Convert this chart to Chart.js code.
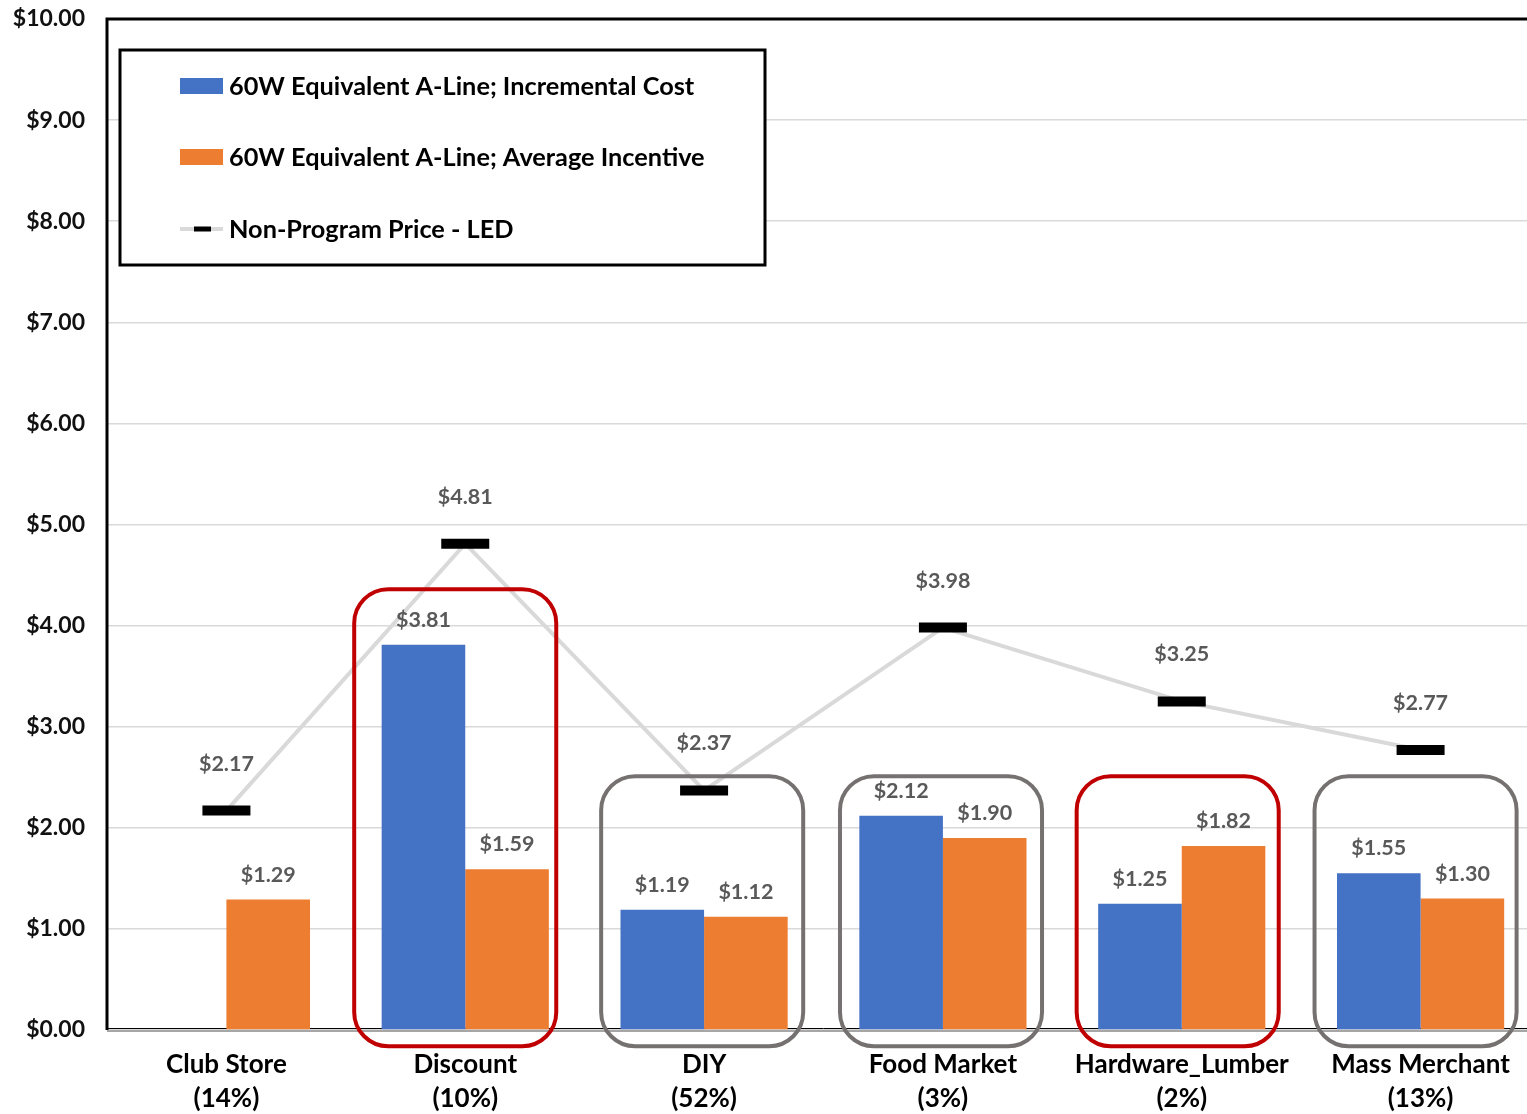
<!DOCTYPE html>
<html>
<head>
<meta charset="utf-8">
<script src="https://cdn.jsdelivr.net/npm/chart.js@4.4.1/dist/chart.umd.min.js"></script>
<style>
    html, body { margin: 0; padding: 0; background: #fff; overflow: hidden; }
    canvas { display: block; }
</style>
</head>
<body>
<canvas id="chart" width="1545" height="1114"></canvas>
<script>
const categories = [
    ['Club Store', '(14%)'],
    ['Discount', '(10%)'],
    ['DIY', '(52%)'],
    ['Food Market', '(3%)'],
    ['Hardware_Lumber', '(2%)'],
    ['Mass Merchant', '(13%)']
];
const incrementalCost = [null, 3.81, 1.19, 2.12, 1.25, 1.55];
const averageIncentive = [1.29, 1.59, 1.12, 1.90, 1.82, 1.30];
const nonProgramPrice = [2.17, 4.81, 2.37, 3.98, 3.25, 2.77];
const yTicks = [0, 1, 2, 3, 4, 5, 6, 7, 8, 9, 10];

// callout boxes around some categories: index, top value, shift (categories), colour
const highlightIndex = [1, 2, 3, 4, 5];
const highlightTop = [4.36, 2.51, 2.51, 2.51, 2.51];
const highlightShift = [-0.042, -0.008, -0.008, -0.017, -0.021];
const highlightColor = ['#c00000', '#767171', '#767171', '#c00000', '#767171'];

const FONT = 'Lato, "Open Sans", sans-serif';
const money = v => '$' + v.toFixed(2);

function roundRect(ctx, x, y, w, h, r) {
    ctx.beginPath();
    ctx.moveTo(x + r, y);
    ctx.lineTo(x + w - r, y);
    ctx.arcTo(x + w, y, x + w, y + r, r);
    ctx.lineTo(x + w, y + h - r);
    ctx.arcTo(x + w, y + h, x + w - r, y + h, r);
    ctx.lineTo(x + r, y + h);
    ctx.arcTo(x, y + h, x, y + h - r, r);
    ctx.lineTo(x, y + r);
    ctx.arcTo(x, y, x + r, y, r);
    ctx.closePath();
}

function noPadding(scale) {
    scale.paddingTop = 0;
    scale.paddingBottom = 0;
    scale.paddingLeft = 0;
    scale.paddingRight = 0;
}

const framePlugin = {
    id: 'frame',
    beforeDatasetsDraw(chart) {
        const { ctx, chartArea: a } = chart;
        ctx.save();
        // double base line
        ctx.strokeStyle = '#a6a6a6';
        ctx.lineWidth = 2;
        ctx.beginPath();
        ctx.moveTo(a.left, a.bottom + 1);
        ctx.lineTo(a.right, a.bottom + 1);
        ctx.stroke();
        ctx.strokeStyle = '#000';
        ctx.lineWidth = 1;
        ctx.beginPath();
        ctx.moveTo(a.left, a.bottom - 1.5);
        ctx.lineTo(a.right, a.bottom - 1.5);
        ctx.stroke();
        ctx.restore();
    },
    afterDatasetsDraw(chart) {
        const { ctx, chartArea: a, scales } = chart;
        const x = scales.x, y = scales.y;
        ctx.save();

        // value labels
        ctx.font = 'bold 21.5px ' + FONT;
        ctx.fillStyle = '#595959';
        ctx.textAlign = 'center';
        ctx.textBaseline = 'middle';
        [0, 1].forEach(di => {
            chart.getDatasetMeta(di).data.forEach((bar, i) => {
                const v = chart.data.datasets[di].data[i];
                if (v == null) return;
                ctx.fillText(money(v), bar.x, bar.y - 25);
            });
        });
        chart.getDatasetMeta(2).data.forEach((pt, i) => {
            ctx.fillText(money(nonProgramPrice[i]), pt.x, pt.y - 47);
        });

        // callout boxes
        const step = x.getPixelForValue(1) - x.getPixelForValue(0);
        highlightIndex.forEach((ci, k) => {
            const cx = x.getPixelForValue(ci) + highlightShift[k] * step;
            const top = y.getPixelForValue(highlightTop[k]);
            const bottom = y.getPixelForValue(-0.16);
            const half = step * 0.423;
            ctx.strokeStyle = highlightColor[k];
            ctx.lineWidth = 4;
            roundRect(ctx, cx - half, top, half * 2, bottom - top, 34);
            ctx.stroke();
        });

        // axis frame
        ctx.strokeStyle = '#000';
        ctx.lineWidth = 3;
        ctx.beginPath();
        ctx.moveTo(a.left, a.bottom);
        ctx.lineTo(a.left, a.top);
        ctx.lineTo(a.right + 10, a.top);
        ctx.stroke();

        // legend
        const lx = 120, ly = 50, lw = 645, lh = 215;
        ctx.fillStyle = '#fff';
        ctx.fillRect(lx, ly, lw, lh);
        ctx.lineWidth = 3;
        ctx.strokeStyle = '#000';
        ctx.strokeRect(lx, ly, lw, lh);
        const items = chart.data.datasets.map(d => d.label);
        const rows = [86, 157, 229];
        ctx.font = 'bold 25.3px ' + FONT;
        ctx.textAlign = 'left';
        items.forEach((label, i) => {
            const ry = rows[i];
            if (i < 2) {
                ctx.fillStyle = chart.data.datasets[i].backgroundColor;
                ctx.fillRect(180, ry - 8, 43, 16);
            } else {
                ctx.strokeStyle = '#d9d9d9';
                ctx.lineWidth = 4;
                ctx.beginPath();
                ctx.moveTo(180, ry);
                ctx.lineTo(223, ry);
                ctx.stroke();
                ctx.fillStyle = '#000';
                ctx.fillRect(194, ry - 2.5, 17, 5);
            }
            ctx.fillStyle = '#000';
            ctx.fillText(label, 229, ry + 1);
        });
        ctx.restore();
    }
};

new Chart(document.getElementById('chart'), {
    data: {
        labels: categories,
        datasets: [
            {
                type: 'bar',
                label: '60W Equivalent A-Line; Incremental Cost',
                data: incrementalCost,
                backgroundColor: '#4472c4',
                categoryPercentage: 0.7,
                barPercentage: 1.0,
                order: 2
            },
            {
                type: 'bar',
                label: '60W Equivalent A-Line; Average Incentive',
                data: averageIncentive,
                backgroundColor: '#ed7d31',
                categoryPercentage: 0.7,
                barPercentage: 1.0,
                order: 2
            },
            {
                type: 'line',
                label: 'Non-Program Price - LED',
                data: nonProgramPrice,
                borderColor: '#d9d9d9',
                borderWidth: 4,
                tension: 0,
                pointStyle: 'line',
                pointRadius: 24,
                pointBorderColor: '#000',
                pointBorderWidth: 10,
                pointHoverRadius: 24,
                order: 1
            }
        ]
    },
    options: {
        responsive: false,
        animation: false,
        layout: { autoPadding: false, padding: { top: 19, right: 5, left: 0, bottom: 0 } },
        plugins: {
            legend: { display: false },
            tooltip: { enabled: false }
        },
        scales: {
            x: {
                grid: { display: false, drawTicks: false },
                border: { display: false },
                ticks: {
                    color: '#000',
                    font: { family: FONT, size: 26, weight: 'bold', lineHeight: 1.3 },
                    padding: 18,
                    maxRotation: 0,
                    autoSkip: false
                },
                afterFit(scale) { scale.height = 84; noPadding(scale); }
            },
            y: {
                min: 0,
                max: 10,
                afterBuildTicks(scale) { scale.ticks = yTicks.map(v => ({ value: v })); },
                grid: { color: '#d9d9d9', lineWidth: 1.5, drawTicks: false },
                border: { display: false },
                ticks: {
                    color: '#111',
                    font: { family: FONT, size: 23, weight: 'bold' },
                    padding: 22,
                    callback: v => money(v)
                },
                afterFit(scale) { scale.width = 107; noPadding(scale); }
            }
        }
    },
    plugins: [framePlugin]
});
</script>
</body>
</html>
